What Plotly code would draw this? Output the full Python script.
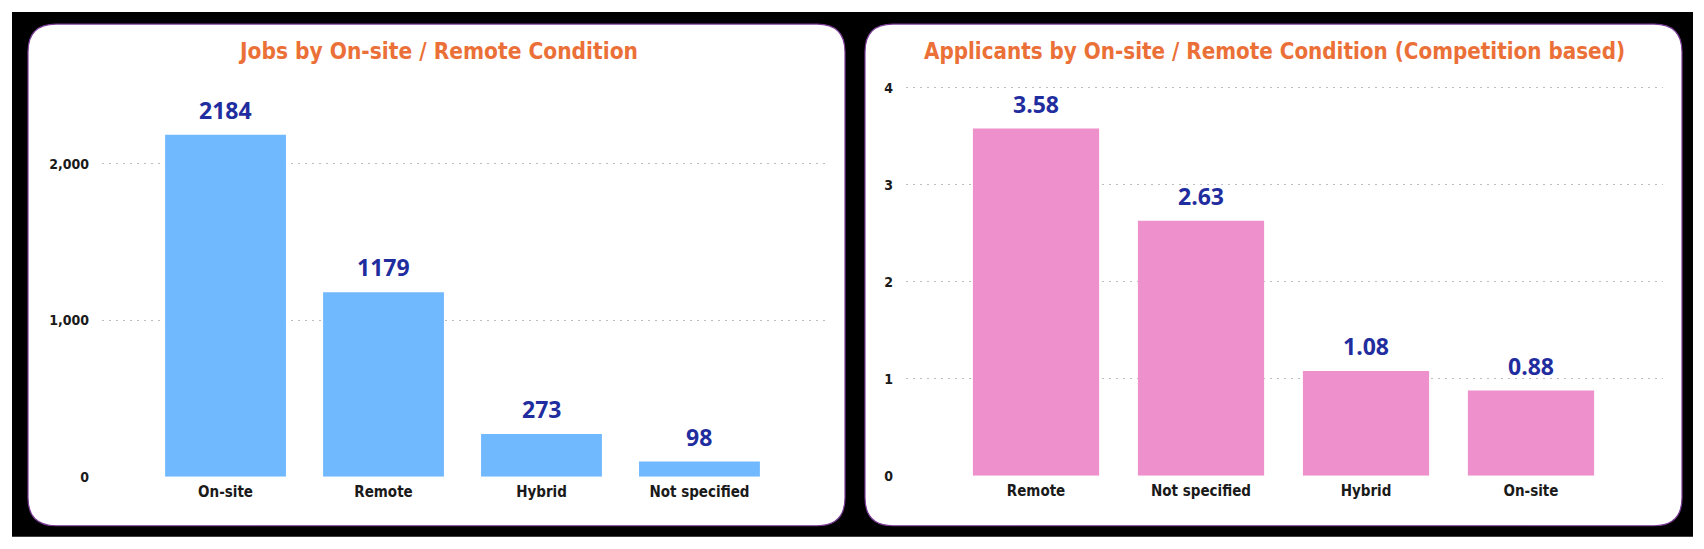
import plotly.graph_objects as go

# ---- data ----
jobs_categories = ["On-site", "Remote", "Hybrid", "Not specified"]
jobs_values = [2184, 1179, 273, 98]

app_categories = ["Remote", "Not specified", "Hybrid", "On-site"]
app_values = [3.58, 2.63, 1.08, 0.88]

title_left = "Jobs by On-site / Remote Condition"
title_right = "Applicants by On-site / Remote Condition (Competition based)"

# ---- geometry helpers (pixels -> paper) ----
W, H = 1704, 549
Y_OFF, HV = 2.9, 539.4  # calibration of the rendered vertical extent
def px(x):
    return x / W
def py(y):
    return 1 - (y - Y_OFF) / HV

COND = "DejaVu Sans Condensed, Roboto Condensed, Arial Narrow, sans-serif"
LABEL_FONT = "Open Sans, Segoe UI, sans-serif"
ORANGE = "#EB7037"
DARKBLUE = "#1F2D9E"
BLUE = "#70B9FF"
PINK = "#EE90CC"
GRID = "#BDBDBD"

fig = go.Figure()
fig.add_trace(go.Bar(x=jobs_categories, y=jobs_values, marker=dict(color=BLUE, line=dict(width=0)),
                     xaxis="x", yaxis="y", hoverinfo="x+y"))
fig.add_trace(go.Bar(x=app_categories, y=app_values, marker=dict(color=PINK, line=dict(width=0)),
                     xaxis="x2", yaxis="y2", hoverinfo="x+y"))

# data labels as annotations anchored to data
annotations = []
for c, v in zip(jobs_categories, jobs_values):
    annotations.append(dict(x=c, y=v, xref="x", yref="y", text=f"<b>{v}</b>", showarrow=False,
                            yanchor="bottom", yshift=7, font=dict(family=LABEL_FONT, size=23, color=DARKBLUE)))
for c, v in zip(app_categories, app_values):
    annotations.append(dict(x=c, y=v, xref="x2", yref="y2", text=f"<b>{v:.2f}</b>", showarrow=False,
                            yanchor="bottom", yshift=7, font=dict(family=LABEL_FONT, size=23, color=DARKBLUE)))
# titles
annotations.append(dict(x=px(437.5), y=py(51), xref="paper", yref="paper", text=f"<b>{title_left}</b>",
                        showarrow=False, xanchor="center", yanchor="middle",
                        font=dict(family=COND, size=22.5, color=ORANGE)))
annotations.append(dict(x=px(1274.5), y=py(51), xref="paper", yref="paper", text=f"<b>{title_right}</b>",
                        showarrow=False, xanchor="center", yanchor="middle",
                        font=dict(family=COND, size=22.2, color=ORANGE)))

def rounded_rect(x0, y0, x1, y1, r):
    X0, X1 = px(x0), px(x1)
    Y0, Y1 = py(y0), py(y1)
    rx, ry = r / W, r / HV
    return (f"M {X0+rx},{Y0} L {X1-rx},{Y0} Q {X1},{Y0} {X1},{Y0-ry} "
            f"L {X1},{Y1+ry} Q {X1},{Y1} {X1-rx},{Y1} "
            f"L {X0+rx},{Y1} Q {X0},{Y1} {X0},{Y1+ry} "
            f"L {X0},{Y0-ry} Q {X0},{Y0} {X0+rx},{Y0} Z")

shapes = [
    dict(type="rect", xref="paper", yref="paper", x0=px(12), x1=px(1693), y0=py(538), y1=py(12),
         fillcolor="#000000", line=dict(width=0), layer="below"),
    dict(type="path", xref="paper", yref="paper", path=rounded_rect(28, 24, 845, 527, 28),
         fillcolor="#FFFFFF", line=dict(color="#7A3C96", width=1.2), layer="below"),
    dict(type="path", xref="paper", yref="paper", path=rounded_rect(865, 24, 1682, 527, 28),
         fillcolor="#FFFFFF", line=dict(color="#7A3C96", width=1.2), layer="below"),
]

xtickfont = dict(family=COND, size=15, color="#1A1A1A")
ytickfont = dict(family=COND, size=14, color="#1A1A1A")

fig.update_layout(
    width=W, height=H,
    margin=dict(l=0, r=0, t=0, b=0),
    paper_bgcolor="#FFFFFF",
    plot_bgcolor="rgba(0,0,0,0)",
    showlegend=False,
    bargap=0.235,
    shapes=shapes,
    annotations=annotations,
    xaxis=dict(domain=[px(102), px(829)], range=[-0.782, 3.82], showgrid=False, zeroline=False,
               showline=False, ticks="", tickfont=xtickfont, ticklabelstandoff=4,
               tickprefix="<b>", ticksuffix="</b>"),
    yaxis=dict(domain=[py(478), py(95)], range=[0, 2439], dtick=1000, tickformat=",",
               showgrid=True, gridcolor=GRID, griddash="2px,5px", gridwidth=1.3, zeroline=False,
               showline=False, ticks="", tickfont=ytickfont, ticklabelstandoff=12,
               tickprefix="<b>", ticksuffix="</b>"),
    xaxis2=dict(domain=[px(906), px(1663)], range=[-0.788, 3.80], showgrid=False, zeroline=False,
                showline=False, ticks="", tickfont=xtickfont, ticklabelstandoff=4,
                tickprefix="<b>", ticksuffix="</b>", anchor="y2"),
    yaxis2=dict(domain=[py(477), py(83)], range=[0, 4.051], dtick=1,
                showgrid=True, gridcolor=GRID, griddash="2px,5px", gridwidth=1.3, zeroline=False,
                showline=False, ticks="", tickfont=ytickfont, ticklabelstandoff=12,
                tickprefix="<b>", ticksuffix="</b>", anchor="x2"),
)

fig.write_html("out.html", config={"displayModeBar": False},
               post_script="document.body.style.margin='0';document.body.style.overflow='hidden';")
